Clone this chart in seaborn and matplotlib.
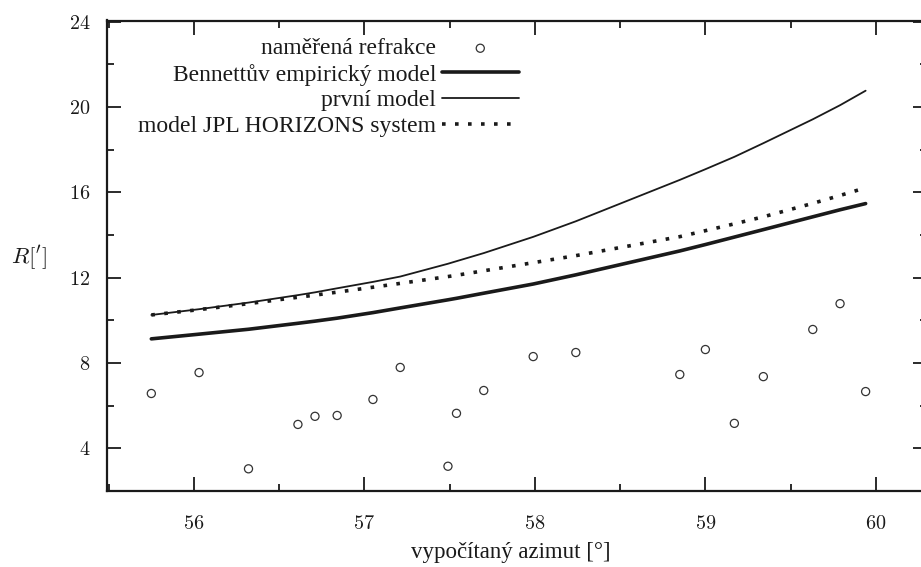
import numpy as np
import pandas as pd
import matplotlib
matplotlib.use("Agg")
import matplotlib.pyplot as plt
from matplotlib.ticker import MultipleLocator
import seaborn as sns

# ---- data ----
azimut = [55.75, 56.03, 56.32, 56.61, 56.71, 56.84, 57.05, 57.21, 57.49, 57.54,
          57.70, 57.99, 58.24, 58.85, 59.00, 59.17, 59.34, 59.63, 59.79, 59.94]
refrakce = [6.57, 7.55, 3.04, 5.12, 5.50, 5.54, 6.29, 7.79, 3.16, 5.64,
            6.71, 8.30, 8.49, 7.46, 8.63, 5.17, 7.36, 9.57, 10.78, 6.66]
bennett = [9.13, 9.35, 9.58, 9.86, 9.96, 10.10, 10.36, 10.58, 10.96, 11.03,
           11.27, 11.70, 12.13, 13.25, 13.55, 13.90, 14.25, 14.85, 15.18, 15.47]
prvni = [10.25, 10.52, 10.83, 11.18, 11.31, 11.50, 11.80, 12.05, 12.65, 12.77,
         13.15, 13.91, 14.64, 16.58, 17.08, 17.66, 18.30, 19.42, 20.08, 20.76]
jpl = [10.25, 10.50, 10.78, 11.08, 11.18, 11.32, 11.55, 11.73, 12.05, 12.11,
       12.32, 12.70, 13.03, 13.92, 14.20, 14.52, 14.85, 15.48, 15.85, 16.21]

labels = ["naměřená refrakce", "Bennettův empirický model", "první model",
          "model JPL HORIZONS system"]
xticks = [56, 57, 58, 59, 60]
yticks = [4, 8, 12, 16, 20, 24]

df = pd.DataFrame({"az": azimut, "R": refrakce, "B": bennett, "P": prvni, "J": jpl})

sns.set_theme(style="ticks")
plt.rcParams["font.family"] = ["cmr10", "DejaVu Serif"]
plt.rcParams["mathtext.fontset"] = "cm"
plt.rcParams["axes.unicode_minus"] = False
plt.rcParams["axes.formatter.use_mathtext"] = True

TXT = "Liberation Serif"
INK = "#1a1a1a"

fig = plt.figure(figsize=(9.21, 5.67), dpi=100)
ax = fig.add_axes([107/921, 1-491/567, 820/921, (491-20.5)/567])

sns.scatterplot(data=df, x="az", y="R", ax=ax, marker="o", s=34,
                facecolor="none", edgecolor="#333333", linewidth=0.9,
                label=labels[0], zorder=3)
sns.lineplot(data=df, x="az", y="B", ax=ax, color=INK, lw=2.6,
             label=labels[1], estimator=None, sort=False)
sns.lineplot(data=df, x="az", y="P", ax=ax, color=INK, lw=1.3,
             label=labels[2], estimator=None, sort=False)
sns.lineplot(data=df, x="az", y="J", ax=ax, color=INK, lw=2.6,
             label=labels[3], estimator=None, sort=False)
ax.lines[-1].set_dashes((1, 2.6))
ax.lines[-1].set_dash_capstyle("butt")

ax.set_xlim(55.49, 60.30)
ax.set_ylim(2.0, 24.05)
ax.set_xticks(xticks)
ax.set_yticks(yticks)
ax.xaxis.set_minor_locator(MultipleLocator(0.5))
ax.yaxis.set_minor_locator(MultipleLocator(2))
ax.tick_params(which="both", direction="in", top=True, right=True, width=1.3,
               colors=INK, labelcolor=INK)
ax.tick_params(which="major", length=10)
ax.tick_params(which="minor", length=5)
ax.tick_params(axis="x", which="major", pad=17, labelsize=14.5)
ax.tick_params(axis="y", which="major", pad=12, labelsize=14.5)
for s in ax.spines.values():
    s.set_linewidth(1.6)
    s.set_color(INK)

ax.set_xlabel("vypočítaný azimut [°]", fontsize=16.5, color=INK, family=TXT,
              va="center")
ax.xaxis.set_label_coords(0.492, -0.131)
ax.set_ylabel("$R[{}^{\\prime}]$", fontsize=16.5, rotation=0, color=INK,
              ha="center", va="center")
ax.yaxis.set_label_coords(-0.095, 0.495)

handles, labs = ax.get_legend_handles_labels()
leg = ax.legend(handles, labs, loc="upper right", bbox_to_anchor=(0.502, 0.963),
                frameon=False, markerfirst=False,
                prop={"family": TXT, "size": 17},
                handlelength=3.25, handletextpad=0.25, labelspacing=0.18,
                borderpad=0, borderaxespad=0)
for col in leg._legend_handle_box.get_children():
    col.align = "right"
for t in leg.get_texts():
    t.set_color(INK)

fig.savefig("out.png", dpi=100)
